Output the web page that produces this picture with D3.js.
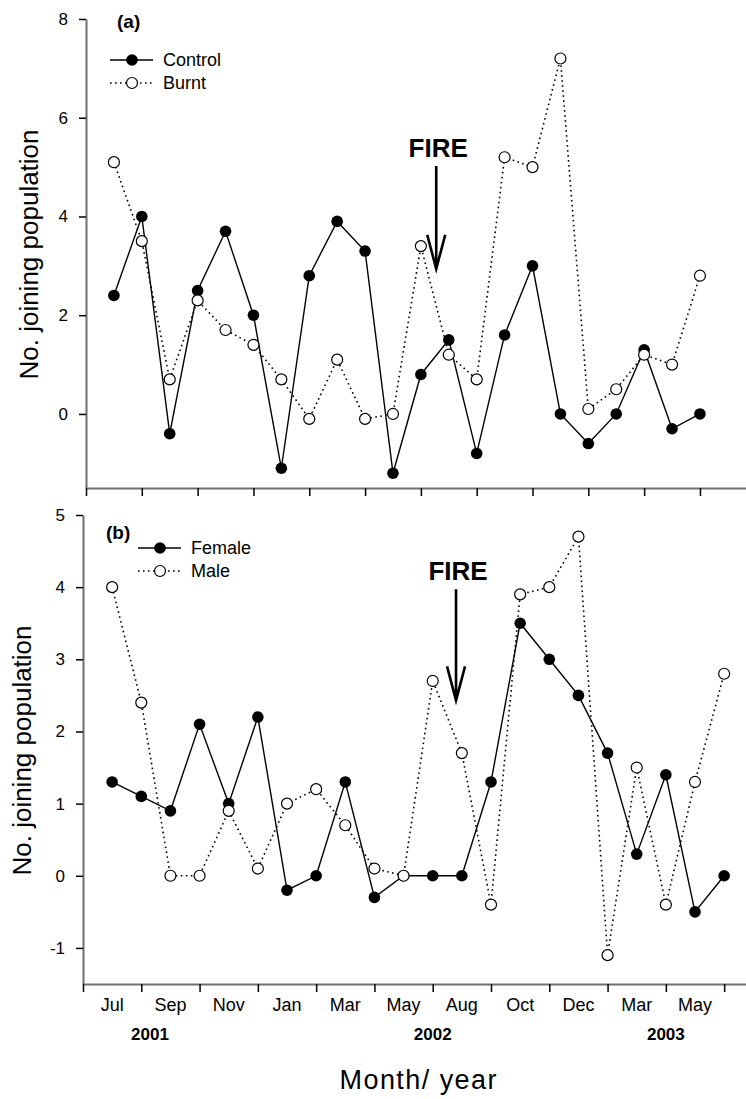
<!DOCTYPE html>
<html>
<head>
<meta charset="utf-8">
<script src="https://d3js.org/d3.v7.min.js"></script>
<style>
  body { margin: 0; background: #fff; }
  svg { display: block; font-family: "Liberation Sans", Arial, sans-serif; }
  .axis path { stroke: #6e6e6e; stroke-width: 2px; }
  .axis line { stroke: #000; stroke-width: 1.5px; }
  .axis text { font-size: 17px; fill: #000; font-family: "Liberation Sans", Arial, sans-serif; }
</style>
</head>
<body>
<svg id="chart" width="746" height="1099"></svg>
<script>
// (a) control vs burnt site
const controlVals = [2.4, 4.0, -0.4, 2.5, 3.7, 2.0, -1.1, 2.8, 3.9, 3.3, -1.2, 0.8, 1.5, -0.8, 1.6, 3.0, 0.0, -0.6, 0.0, 1.3, -0.3, 0.0];
const burntVals   = [5.1, 3.5, 0.7, 2.3, 1.7, 1.4, 0.7, -0.1, 1.1, -0.1, 0.0, 3.4, 1.2, 0.7, 5.2, 5.0, 7.2, 0.1, 0.5, 1.2, 1.0, 2.8];
// (b) female vs male
const femaleVals  = [1.3, 1.1, 0.9, 2.1, 1.0, 2.2, -0.2, 0.0, 1.3, -0.3, 0.0, 0.0, 0.0, 1.3, 3.5, 3.0, 2.5, 1.7, 0.3, 1.4, -0.5, 0.0];
const maleVals    = [4.0, 2.4, 0.0, 0.0, 0.9, 0.1, 1.0, 1.2, 0.7, 0.1, 0.0, 2.7, 1.7, -0.4, 3.9, 4.0, 4.7, -1.1, 1.5, -0.4, 1.3, 2.8];

const monthLabels = ["Jul", "Sep", "Nov", "Jan", "Mar", "May", "Aug", "Oct", "Dec", "Mar", "May"];
const yearLabels = ["2001", "2002", "2003"];
const yearIdx = [1.3, 11, 19];
const ticksA = [0, 2, 4, 6, 8];
const ticksB = [-1, 0, 1, 2, 3, 4, 5];
const xTicks = d3.range(-1, 22, 2);

const svg = d3.select("#chart");

function drawPanel(p) {
    const x = d3.scaleLinear().domain(p.xDomain).range(p.xRange);
    const y = d3.scaleLinear().domain(p.yDomain).range(p.yRange);
    const g = svg.append("g");

    g.append("g").attr("class", "axis")
        .attr("transform", `translate(${p.xRange[0]},0)`)
        .call(d3.axisLeft(y).tickValues(p.yTicks).tickSize(7).tickSizeOuter(0).tickPadding(11)
            .tickFormat(d => String(d)));

    g.append("g").attr("class", "axis")
        .attr("transform", `translate(0,${p.yRange[0]})`)
        .call(d3.axisBottom(x).tickValues(xTicks).tickSize(8).tickSizeOuter(0).tickFormat(""));

    const line = d3.line().x((d, i) => x(i)).y(d => y(d));

    // solid series with filled dots
    g.append("path").datum(p.solid)
        .attr("d", line).attr("fill", "none").attr("stroke", "#000").attr("stroke-width", 1.4);
    g.selectAll(".fdot").data(p.solid).enter().append("circle")
        .attr("cx", (d, i) => x(i)).attr("cy", d => y(d)).attr("r", 5.8).attr("fill", "#000");

    // dotted series with open dots
    g.append("path").datum(p.dotted)
        .attr("d", line).attr("fill", "none").attr("stroke", "#000")
        .attr("stroke-width", 1.6).attr("stroke-dasharray", "1.6,3.4");
    g.selectAll(".odot").data(p.dotted).enter().append("circle")
        .attr("cx", (d, i) => x(i)).attr("cy", d => y(d)).attr("r", 5.5)
        .attr("fill", "#fff").attr("stroke", "#000").attr("stroke-width", 1.2);

    // panel letter
    g.append("text").attr("x", p.letterPos[0]).attr("y", p.letterPos[1])
        .attr("font-size", 19).attr("font-weight", "bold").text(p.letter);

    // legend
    p.legend.forEach((name, k) => {
        const ly = p.legendPos[1] + k * 23;
        const lx = p.legendPos[0];
        g.append("line").attr("x1", lx).attr("x2", lx + 43).attr("y1", ly).attr("y2", ly)
            .attr("stroke", "#000").attr("stroke-width", k ? 1.6 : 1.4)
            .attr("stroke-dasharray", k ? "1.6,3.4" : null);
        g.append("circle").attr("cx", lx + 22).attr("cy", ly).attr("r", k ? 5.5 : 5.8)
            .attr("fill", k ? "#fff" : "#000").attr("stroke", "#000").attr("stroke-width", k ? 1.2 : 0);
        g.append("text").attr("x", lx + 53).attr("y", ly + 6).attr("font-size", 18).text(name);
    });

    // FIRE arrow
    const ax = x(p.fire.idx), y0 = y(p.fire.top), y1 = y(p.fire.tip);
    g.append("text").attr("x", ax + 2).attr("y", y0 - 9).attr("text-anchor", "middle")
        .attr("font-size", 26).attr("font-weight", "bold").text("FIRE");
    g.append("path")
        .attr("d", `M${ax},${y0}L${ax},${y1}M${ax - 9},${y1 - 34}L${ax},${y1}L${ax + 9},${y1 - 34}`)
        .attr("fill", "none").attr("stroke", "#000").attr("stroke-width", 2.6);

    // y title
    g.append("text")
        .attr("transform", `translate(${p.titleX},${(p.yRange[0] + p.yRange[1]) / 2 + 1}) rotate(-90)`)
        .attr("text-anchor", "middle").attr("font-size", 26).text("No. joining population");

    return x;
}

drawPanel({
    xDomain: [-1, 22.65], xRange: [86, 746],
    yDomain: [-1.5, 8], yRange: [488, 19], yTicks: ticksA,
    solid: controlVals, dotted: burntVals,
    letter: "(a)", letterPos: [117, 28],
    legend: ["Control", "Burnt"], legendPos: [110, 60],
    fire: { idx: 11.55, top: 5.02, tip: 2.94 },
    titleX: 38
});

const xb = drawPanel({
    xDomain: [-1, 21.75], xRange: [83, 746],
    yDomain: [-1.5, 5], yRange: [984, 515], yTicks: ticksB,
    solid: femaleVals, dotted: maleVals,
    letter: "(b)", letterPos: [106, 539],
    legend: ["Female", "Male"], legendPos: [138, 548],
    fire: { idx: 11.8, top: 3.97, tip: 2.43 },
    titleX: 31
});

// month labels under panel b, centred between ticks
svg.append("g").selectAll("text").data(monthLabels).enter().append("text")
    .attr("x", (d, i) => xb(i * 2)).attr("y", 1011)
    .attr("text-anchor", "middle").attr("font-size", 18).text(d => d);

svg.append("g").selectAll("text").data(yearLabels).enter().append("text")
    .attr("x", (d, i) => xb(yearIdx[i])).attr("y", 1040)
    .attr("text-anchor", "middle").attr("font-size", 17).attr("font-weight", "bold").text(d => d);

svg.append("text").attr("x", 418).attr("y", 1089).attr("text-anchor", "middle")
    .attr("font-size", 27).attr("textLength", 157).text("Month/ year");
</script>
</body>
</html>
